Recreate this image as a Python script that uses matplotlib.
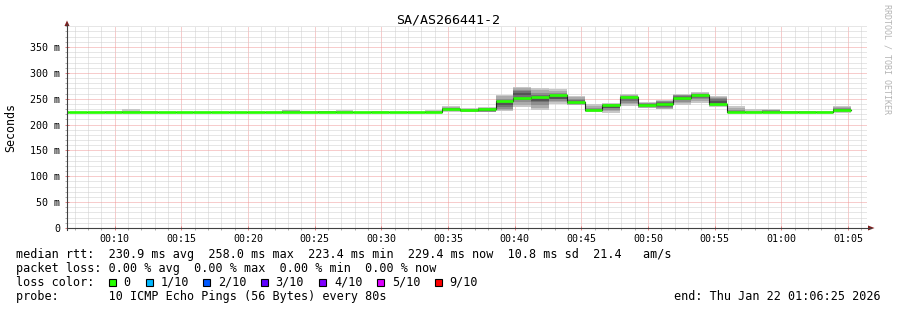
import numpy as np
import matplotlib
matplotlib.use("Agg")
import matplotlib.pyplot as plt
import matplotlib.dates as mdates
from matplotlib.ticker import MultipleLocator, FuncFormatter
from matplotlib.patches import Rectangle, Polygon
from matplotlib.lines import Line2D
from datetime import datetime, timedelta

W, H = 897, 310
MONO = "DejaVu Sans Mono"

# time frame of the graph and the 80 s probe steps
graph_start = datetime(2026, 1, 22, 0, 6, 25)
graph_end = datetime(2026, 1, 22, 1, 6, 25)
first_step = datetime(2026, 1, 22, 0, 5, 14)
step_sec = 80

# median rtt per step (ms)
median = [223.8,
          223.8, 223.8, 223.9, 224.0, 223.9, 223.8, 223.8, 223.7, 223.8, 223.8,
          223.8, 223.8, 224.0, 223.9, 224.0, 224.0, 223.8, 223.8, 223.8, 223.9,
          224.0, 230.5, 227.6, 229.8, 245.6, 251.5, 254.0, 257.8, 243.7, 228.0,
          237.5, 254.0, 238.5, 240.5, 250.5, 256.8, 239.0, 224.8, 223.8, 223.8,
          223.8, 223.8, 223.8, 229.0]

# sorted ping rtts per step (ms), fastest -> slowest
ping1 = [223.0,
         223.0, 223.1, 223.2, 223.3, 223.2, 223.0, 223.1, 223.0, 223.1, 223.0,
         223.1, 223.0, 223.3, 223.2, 223.3, 223.3, 223.0, 223.1, 223.0, 223.1,
         223.2, 223.7, 223.8, 223.5, 227.0, 234.0, 228.5, 240.0, 237.0, 224.5,
         223.0, 236.5, 231.5, 229.5, 238.0, 242.5, 233.4, 221.8, 223.0, 223.0,
         223.0, 223.0, 223.1, 223.0]
ping2 = [223.3,
         223.3, 223.4, 223.4, 223.5, 223.4, 223.3, 223.3, 223.3, 223.3, 223.3,
         223.4, 223.3, 223.5, 223.4, 223.5, 223.5, 223.3, 223.3, 223.3, 223.4,
         223.4, 226.0, 224.8, 224.5, 229.0, 238.5, 232.0, 243.0, 238.5, 225.5,
         226.0, 239.0, 233.0, 231.0, 241.0, 246.0, 235.0, 222.5, 223.3, 223.3,
         223.3, 223.3, 223.3, 224.5]
ping3 = [223.5,
         223.5, 223.6, 223.6, 223.7, 223.6, 223.5, 223.5, 223.5, 223.5, 223.5,
         223.6, 223.5, 223.7, 223.6, 223.7, 223.7, 223.5, 223.5, 223.5, 223.6,
         223.6, 228.0, 226.0, 225.0, 231.0, 243.0, 238.0, 246.0, 240.0, 226.5,
         229.0, 242.0, 234.5, 232.5, 244.0, 249.0, 237.0, 223.2, 223.5, 223.5,
         223.5, 223.5, 223.5, 226.0]
ping4 = [223.7,
         223.7, 223.7, 223.8, 223.9, 223.8, 223.7, 223.7, 223.6, 223.7, 223.7,
         223.7, 223.7, 223.9, 223.8, 223.9, 223.9, 223.7, 223.7, 223.7, 223.8,
         223.8, 229.5, 227.0, 225.4, 234.0, 248.0, 243.0, 248.5, 241.5, 227.2,
         232.0, 246.0, 236.0, 233.5, 247.0, 252.0, 239.0, 223.8, 223.7, 223.7,
         223.7, 223.7, 223.7, 227.5]
ping5 = [223.8,
         223.8, 223.8, 223.9, 224.0, 223.9, 223.8, 223.8, 223.8, 223.8, 223.8,
         223.8, 223.8, 224.0, 223.9, 224.0, 224.0, 223.8, 223.8, 223.8, 223.9,
         224.0, 230.2, 227.4, 225.6, 237.0, 256.5, 246.0, 249.0, 242.5, 227.6,
         233.0, 248.5, 237.5, 236.0, 250.0, 254.5, 242.0, 224.3, 223.8, 223.9,
         223.8, 223.8, 223.8, 228.5]
ping6 = [223.9,
         223.9, 223.9, 224.0, 224.1, 224.0, 223.9, 223.9, 223.9, 223.9, 223.9,
         223.9, 223.9, 224.1, 224.0, 224.2, 224.1, 223.9, 223.9, 223.9, 224.0,
         224.1, 230.8, 227.8, 228.6, 242.0, 262.0, 250.0, 254.0, 244.5, 228.4,
         235.0, 250.0, 239.0, 242.0, 253.5, 256.5, 246.0, 225.0, 224.0, 224.2,
         224.0, 223.9, 223.9, 229.5]
ping7 = [224.0,
         224.0, 224.1, 224.2, 224.4, 224.2, 224.0, 224.0, 224.0, 224.1, 224.0,
         224.0, 224.0, 224.5, 224.2, 225.0, 224.4, 224.0, 224.1, 224.0, 224.1,
         224.3, 231.5, 228.5, 230.5, 246.0, 265.0, 256.5, 257.0, 247.0, 230.0,
         237.0, 253.0, 240.0, 244.0, 255.5, 258.5, 249.0, 226.5, 224.3, 226.0,
         224.3, 224.1, 224.0, 231.0]
ping8 = [224.2,
         224.2, 224.3, 224.5, 224.8, 224.6, 224.2, 224.2, 224.2, 224.3, 224.2,
         224.2, 224.2, 225.5, 224.6, 225.8, 225.2, 224.2, 224.4, 224.2, 224.3,
         224.8, 233.0, 229.5, 231.8, 250.0, 267.5, 262.0, 260.5, 250.0, 233.0,
         239.0, 255.5, 241.5, 245.5, 256.5, 260.0, 251.0, 229.0, 224.8, 228.0,
         224.8, 224.5, 224.3, 233.0]
ping9 = [224.5,
         224.5, 224.6, 225.0, 226.0, 225.2, 224.5, 224.4, 224.5, 224.5, 224.4,
         224.5, 224.5, 227.5, 225.2, 226.1, 227.0, 224.5, 224.9, 224.5, 224.6,
         226.0, 234.5, 230.5, 232.6, 255.0, 270.0, 266.0, 264.5, 252.5, 236.0,
         240.5, 257.5, 242.5, 246.5, 257.5, 261.3, 253.0, 232.0, 226.0, 229.0,
         225.8, 225.3, 224.8, 234.5]
ping10 = [225.0,
          225.0, 225.2, 226.0, 230.0, 226.2, 225.0, 224.9, 225.0, 224.9, 224.8,
          225.0, 225.1, 228.5, 226.3, 226.4, 228.2, 225.0, 225.6, 225.0, 225.1,
          228.0, 236.0, 231.5, 233.4, 258.0, 272.0, 270.5, 268.8, 254.7, 240.0,
          242.0, 259.0, 243.5, 247.5, 258.5, 262.4, 255.0, 236.0, 229.5, 229.8,
          227.0, 226.5, 225.5, 236.0]

stats_line = "median rtt:  230.9 ms avg  258.0 ms max  223.4 ms min  229.4 ms now  10.8 ms sd  21.4   am/s"
loss_line = "packet loss: 0.00 % avg  0.00 % max  0.00 % min  0.00 % now"
probe_line = "probe:       10 ICMP Echo Pings (56 Bytes) every 80s"
end_text = "end: Thu Jan 22 01:06:25 2026"
title = "SA/AS266441-2"

loss_labels = ["0", "1/10", "2/10", "3/10", "4/10", "5/10", "9/10"]
loss_colors = ["#26ff00", "#00b8ff", "#0059ff", "#5e00ff", "#7e00ff", "#dd00ff", "#ff0000"]

# smoke shades, outer band to inner band
smoke_colors = ["#c8c8c8", "#ababab", "#8e8e8e", "#717171", "#545454"]


def fx(px):
    return px / W


def fy(py):
    return 1 - py / H


n = len(median)
edges = [first_step + timedelta(seconds=step_sec * i) for i in range(n + 1)]
edges_num = mdates.date2num(edges)


def ext(v):
    return np.append(np.asarray(v, float), v[-1])


fig = plt.figure(figsize=(W / 100, H / 100), dpi=100)
fig.patch.set_facecolor("white")
# whole pixel edges keep the 1px dotted grid crisp
L, R, T, B = 67, 867, 26, 228
ax = fig.add_axes([fx(L), fy(B), (R - L) / W, (B - T) / H])
ax.set_xlim(graph_start, graph_end)
ax.set_ylim(0, 390.6)

# smoke
pings = [ping1, ping2, ping3, ping4, ping5, ping6, ping7, ping8, ping9, ping10]
for i, col in enumerate(smoke_colors):
    ax.fill_between(edges_num, ext(pings[i]), ext(pings[9 - i]), step="post",
                    color=col, lw=0, zorder=2)

# median line + loss coloured band
ax.step(edges_num, ext(median), where="post", color="#202020", lw=0.8, zorder=3)
ax.hlines(median, edges_num[:-1], edges_num[1:], color=loss_colors[0], lw=1.9, zorder=4)

# grid
ax.xaxis.set_major_locator(mdates.MinuteLocator(byminute=range(0, 60, 5)))
ax.xaxis.set_minor_locator(mdates.MinuteLocator())
ax.xaxis.set_major_formatter(mdates.DateFormatter("%H:%M"))
ax.yaxis.set_major_locator(MultipleLocator(50))
ax.yaxis.set_minor_locator(MultipleLocator(10))
ax.yaxis.set_major_formatter(FuncFormatter(lambda v, p: f"{int(v)} m" if v else "0"))
ax.grid(which="minor", color="#cfcfcf", ls=(0, (1, 1)), lw=0.72, snap=True)
ax.grid(which="major", color="#f09a9a", ls=(0, (1, 1)), lw=0.72, snap=True)
ax.set_axisbelow(True)

for s in ax.spines.values():
    s.set_visible(False)
ax.tick_params(which="major", direction="inout", length=3, width=0.72, color="#e08080",
               labelsize=7.2, labelfontfamily=MONO, pad=2.8)
ax.tick_params(which="minor", direction="out", length=1.5, width=0.72, color="#b0b0b0")
ax.tick_params(axis="y", which="major", pad=3.6)

# axis lines and arrows
axis_col = "#404040"
arrow_col = "#7f1f1f"
fig.add_artist(Line2D([fx(L), fx(871)], [fy(B), fy(B)], color=axis_col, lw=0.8))
fig.add_artist(Line2D([fx(L), fx(L)], [fy(B + 2), fy(24)], color=axis_col, lw=0.8))
fig.add_artist(Polygon([[fx(868), fy(225.5)], [fx(874.5), fy(B)], [fx(868), fy(230.5)]],
                       closed=True, color=arrow_col, lw=0))
fig.add_artist(Polygon([[fx(L - 2.5), fy(26)], [fx(L), fy(20.5)], [fx(L + 2.5), fy(26)]],
                       closed=True, color=arrow_col, lw=0))

# title, axis label, watermark
fig.text(fx(448), fy(23.5), title, family=MONO, fontsize=9.6, ha="center", va="baseline")
fig.text(fx(11), fy(127), "Seconds", family=MONO, fontsize=8.4, rotation=90,
         ha="center", va="center")
fig.text(fx(887), fy(4), "RRDTOOL / TOBI OETIKER", family=MONO, fontsize=6.0,
         rotation=270, ha="center", va="top", color="#b4b4b4")

# legend
fs = 8.43
fig.text(fx(16), fy(258.3), stats_line, family=MONO, fontsize=fs, va="baseline")
fig.text(fx(16), fy(272.1), loss_line, family=MONO, fontsize=fs, va="baseline")
fig.text(fx(16), fy(285.9), "loss color:", family=MONO, fontsize=fs, va="baseline")
box_x = [108.7, 145.7, 203.3, 261.0, 319.3, 377.3, 435.0]
for bx, lab, col in zip(box_x, loss_labels, loss_colors):
    fig.add_artist(Rectangle((fx(bx), fy(286)), 7 / W, 7.3 / H, facecolor=col,
                             edgecolor="black", lw=0.8))
    fig.text(fx(bx + 14.6), fy(285.9), lab, family=MONO, fontsize=fs, va="baseline")
fig.text(fx(16), fy(299.8), probe_line, family=MONO, fontsize=fs, va="baseline")
fig.text(fx(880.5), fy(299.8), end_text, family=MONO, fontsize=fs, va="baseline", ha="right")

fig.savefig("out.png", dpi=100)
